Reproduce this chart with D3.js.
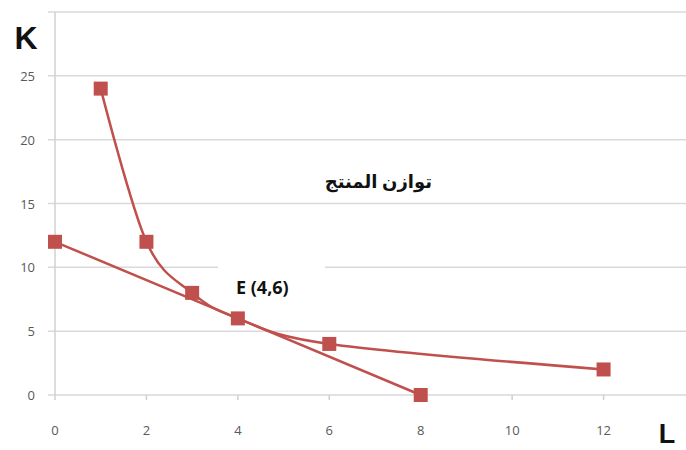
<!DOCTYPE html>
<html>
<head>
<meta charset="utf-8">
<script src="https://cdn.jsdelivr.net/npm/d3@7"></script>
<style>
  body { margin: 0; background: #fff; }
  svg { display: block; }
</style>
</head>
<body>
<div id="chart"></div>
<script>
// isoquant (smoothed) and isocost (straight) series
var isoquantL = [1, 2, 3, 4, 6, 12];
var isoquantK = [24, 12, 8, 6, 4, 2];
var isocostL = [0, 4, 8];
var isocostK = [12, 6, 0];
var xTicks = [0, 2, 4, 6, 8, 10, 12];
var yTicks = [0, 5, 10, 15, 20, 25, 30];
var yLabels = [0, 5, 10, 15, 20, 25];

var width = 686, height = 450;
var red = "#c0504d";

var svg = d3.select("#chart").append("svg")
    .attr("width", width)
    .attr("height", height);

var x = d3.scaleLinear().domain([0, 14]).range([55, 695]);
var y = d3.scaleLinear().domain([0, 30]).range([395, 12]);

// gridlines
svg.append("g").selectAll("line")
    .data(yTicks)
    .enter().append("line")
    .attr("x1", 48).attr("x2", width)
    .attr("y1", function (d) { return y(d); })
    .attr("y2", function (d) { return y(d); })
    .attr("stroke", "#d9d9d9")
    .attr("stroke-width", 1.5);

// vertical axis line
svg.append("line")
    .attr("x1", x(0)).attr("x2", x(0))
    .attr("y1", y(30)).attr("y2", y(0) + 5)
    .attr("stroke", "#d0d0d0")
    .attr("stroke-width", 1.5);

// x tick marks
svg.append("g").selectAll("line")
    .data(xTicks.slice(1))
    .enter().append("line")
    .attr("x1", function (d) { return x(d); })
    .attr("x2", function (d) { return x(d); })
    .attr("y1", y(0)).attr("y2", y(0) + 5)
    .attr("stroke", "#d0d0d0")
    .attr("stroke-width", 1.5);

// tick labels
svg.append("g").selectAll("text")
    .data(xTicks)
    .enter().append("text")
    .attr("x", function (d) { return x(d); })
    .attr("y", 435)
    .attr("text-anchor", "middle")
    .attr("font-family", "Open Sans, sans-serif")
    .attr("font-size", 13)
    .attr("fill", "#595959")
    .text(function (d) { return d; });

svg.append("g").selectAll("text")
    .data(yLabels)
    .enter().append("text")
    .attr("x", 35)
    .attr("y", function (d) { return y(d) + 5; })
    .attr("text-anchor", "end")
    .attr("font-family", "Open Sans, sans-serif")
    .attr("font-size", 13)
    .attr("fill", "#595959")
    .text(function (d) { return d; });

// axis titles
svg.append("text")
    .attr("x", 26).attr("y", 49)
    .attr("text-anchor", "middle")
    .attr("font-family", "Liberation Sans, Arial, sans-serif")
    .attr("font-weight", "bold")
    .attr("font-size", 32)
    .attr("fill", "#111")
    .text("K");

svg.append("text")
    .attr("x", 667).attr("y", 443)
    .attr("text-anchor", "middle")
    .attr("font-family", "Liberation Sans, Arial, sans-serif")
    .attr("font-weight", "bold")
    .attr("font-size", 27)
    .attr("fill", "#111")
    .text("L");

// series
var quant = isoquantL.map(function (d, i) { return [d, isoquantK[i]]; });
var cost = isocostL.map(function (d, i) { return [d, isocostK[i]]; });

var smooth = d3.line()
    .x(function (d) { return x(d[0]); })
    .y(function (d) { return y(d[1]); })
    .curve(d3.curveCardinal.tension(0));

var straight = d3.line()
    .x(function (d) { return x(d[0]); })
    .y(function (d) { return y(d[1]); });

svg.append("path")
    .attr("d", straight(cost))
    .attr("fill", "none")
    .attr("stroke", red)
    .attr("stroke-width", 2.5);

svg.append("path")
    .attr("d", smooth(quant))
    .attr("fill", "none")
    .attr("stroke", red)
    .attr("stroke-width", 2.5);

var pts = quant.concat([cost[0], cost[2]]);
svg.append("g").selectAll("rect")
    .data(pts)
    .enter().append("rect")
    .attr("x", function (d) { return x(d[0]) - 7; })
    .attr("y", function (d) { return y(d[1]) - 7; })
    .attr("width", 14)
    .attr("height", 14)
    .attr("fill", red);

// labels
svg.append("rect")
    .attr("x", 218).attr("y", 262)
    .attr("width", 107).attr("height", 38)
    .attr("fill", "#fff");

svg.append("text")
    .attr("x", 236).attr("y", 294)
    .attr("font-family", "Open Sans, sans-serif")
    .attr("font-weight", "bold")
    .attr("font-size", 18)
    .attr("fill", "#111")
    .text("E (4,6)");

svg.append("text")
    .attr("x", 432).attr("y", 188)
    .attr("text-anchor", "end")
    .attr("font-family", "Noto Sans, DejaVu Sans, sans-serif")
    .attr("font-weight", "bold")
    .attr("font-size", 18)
    .attr("fill", "#111")
    .text("توازن المنتج");
</script>
</body>
</html>
